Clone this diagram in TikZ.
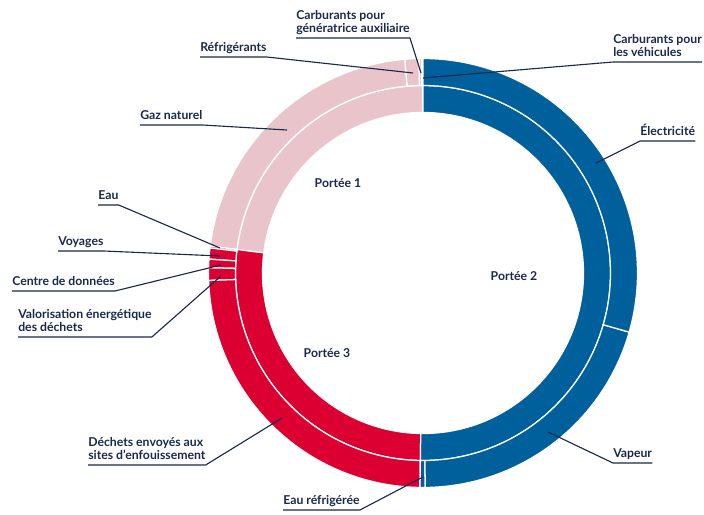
\documentclass[tikz,border=0pt]{standalone}
\usepackage{fontspec}
\setmainfont{Lato}
\usepackage{xcolor}
\usepackage{tikz}
\usetikzlibrary{calc, positioning}

\definecolor{bleuP}{HTML}{00609C}
\definecolor{rougeP}{HTML}{DC0032}
\definecolor{roseP}{HTML}{E9C5CB}
\definecolor{marine}{HTML}{1B2A4A}

% secteur d'anneau : couleur, angle debut, angle fin, rayon int, rayon ext
\newcommand{\secteur}[5]{%
  \filldraw[fill=#1, draw=white, line width=0.9pt] (#2:#4) arc[start angle=#2, end angle=#3, radius=#4]
    -- (#3:#5) arc[start angle=#3, end angle=#2, radius=#5] -- cycle;}

\begin{document}
\begin{tikzpicture}[x=0.025cm, y=0.025cm,
    etiq/.style={font=\bfseries\fontsize{8.7}{9.5}\selectfont, text=marine, align=left,
      inner xsep=0pt, inner ysep=1.5pt, text depth=2pt, anchor=south west},
    portee/.style={font=\bfseries\fontsize{8.7}{9.5}\selectfont, text=marine},
    fil/.style={draw=marine, line width=0.8pt}]
    \useasboundingbox (0,0) rectangle (704,-514);
    \fill[white] (0,0) rectangle (704,-514);

    % 1. Anneau interieur (portees) et anneau exterieur (sources)
    \begin{scope}[shift={(423,-273)}]
        \secteur{roseP}{90}{172.8}{160.5}{187.5}
        \secteur{rougeP}{172.8}{269.2}{160.5}{187.5}
        \secteur{bleuP}{269.2}{450}{160.5}{187.5}

        \secteur{roseP}{90}{90.4}{187.5}{214.5}
        \secteur{roseP}{90.4}{91.1}{187.5}{214.5}
        \secteur{roseP}{91.1}{94.9}{187.5}{214.5}
        \secteur{roseP}{94.9}{172.8}{187.5}{214.5}
        \secteur{rougeP}{172.8}{173.3}{187.5}{214.5}
        \secteur{rougeP}{173.3}{176.3}{187.5}{214.5}
        \secteur{rougeP}{176.3}{178.6}{187.5}{214.5}
        \secteur{rougeP}{178.6}{182}{187.5}{214.5}
        \secteur{rougeP}{182}{269.2}{187.5}{214.5}
        \secteur{bleuP}{269.2}{270.6}{187.5}{214.5}
        \secteur{bleuP}{270.6}{344}{187.5}{214.5}
        \secteur{bleuP}{344}{450}{187.5}{214.5}
    \end{scope}

    % 2. Titres des portees
    \node[portee] (p1) at (338,-183) {Portée 1};
    \node[portee] (p2) at (514,-276) {Portée 2};
    \node[portee] (p3) at (327,-353) {Portée 3};

    % 3. Etiquettes a gauche
    \node[etiq] (generatrice) at (296,-38) {Carburants pour\\génératrice auxiliaire};
    \node[etiq] (refrigerants) at (200,-57) {Réfrigérants};
    \node[etiq] (gaznaturel) at (140,-125) {Gaz naturel};
    \node[etiq] (eau) at (98,-205) {Eau};
    \node[etiq] (voyages) at (58,-251) {Voyages};
    \node[etiq] (centre) at (12,-291) {Centre de données};
    \node[etiq] (valorisation) at (18,-337) {Valorisation énergétique\\des déchets};
    \node[etiq] (dechets) at (88,-465) {Déchets envoyés aux\\sites d’enfouissement};
    \node[etiq] (eaurefr) at (283,-510) {Eau réfrigérée};

    % 4. Etiquettes a droite
    \node[etiq] (vehicules) at (613,-62) {Carburants pour\\les véhicules};
    \node[etiq] (electricite) at (640,-141) {Électricité};
    \node[etiq] (vapeur) at (613,-463) {Vapeur};

    % bouts des traits dans l'anneau
    \coordinate (t-generatrice) at (421,-73);
    \coordinate (t-refrigerants) at (413,-73);
    \coordinate (t-gaznaturel) at (287,-130);
    \coordinate (t-eau) at (220,-248);
    \coordinate (t-voyages) at (220,-256);
    \coordinate (t-centre) at (221,-265);
    \coordinate (t-valorisation) at (221,-276);
    \coordinate (t-dechets) at (282,-418);
    \coordinate (t-eaurefr) at (423,-477);
    \coordinate (t-vehicules) at (423,-78);
    \coordinate (t-electricite) at (596,-163);
    \coordinate (t-vapeur) at (548,-432);

    % 5. Traits de rappel
    \foreach \n in {generatrice, refrigerants, gaznaturel, eau, voyages, centre, valorisation, dechets, eaurefr}
        \draw[fil] (\n.south west) -- (\n.south east) -- (t-\n);
    \foreach \n in {vehicules, electricite, vapeur}
        \draw[fil] (t-\n) -- (\n.south west) -- (\n.south east);
\end{tikzpicture}
\end{document}
